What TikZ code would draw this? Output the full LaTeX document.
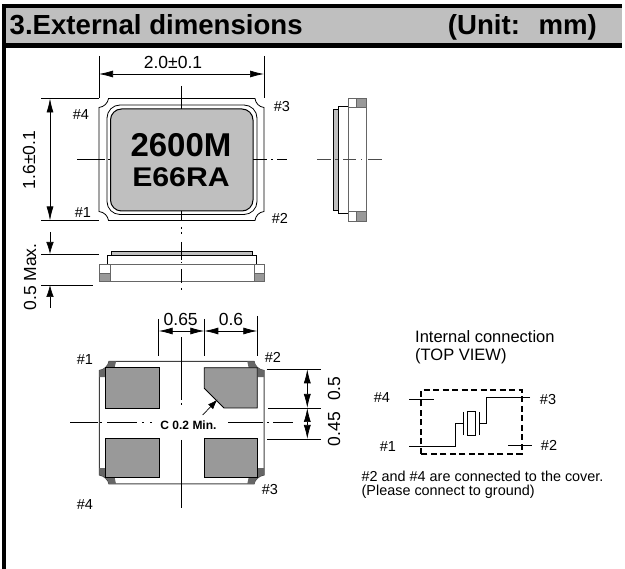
\documentclass[tikz,border=0pt]{standalone}
\usepackage{fontspec}
\setmainfont{Liberation Sans}
\usetikzlibrary{arrows.meta}
\definecolor{hdr}{HTML}{BFBFBF}
\definecolor{pad}{HTML}{999999}
\tikzset{
  txt/.style={inner sep=0pt,font=\fontsize{#1}{#1}\selectfont},
  txt/.default=17.5,
  dim/.style={line width=0.7pt,{Latex[length=14pt,width=7pt]}-{Latex[length=14pt,width=7pt]}},
  tip/.style={line width=0.7pt,-{Latex[length=12pt,width=7.5pt]}},
  ext/.style={line width=0.7pt},
  ctr/.style={line width=0.7pt},
  ol/.style={line width=0.8pt},
  olg/.style={line width=1pt,draw=black!60},
  wire/.style={line width=1pt},
  cover/.style={line width=1.7pt,dash pattern=on 6pt off 3.5pt},
}
\begin{document}
\begin{tikzpicture}[x=1pt,y=-1pt]
\useasboundingbox (0,0) rectangle (625,569);
% frame and header
\fill[hdr] (2,4) rectangle (622,48);
\fill[black] (2,4) rectangle (622,8.5);
\fill[black] (2,43) rectangle (622,48);
\fill[black] (2,4) rectangle (6,569);
\node[inner sep=0pt,font=\fontsize{27.6}{27.6}\selectfont\bfseries,anchor=base west] (title) at (9.5,35) {3.External dimensions};
\node[inner sep=0pt,font=\fontsize{27.6}{27.6}\selectfont\bfseries,anchor=base east] (unit) at (597,35) {(Unit:\hspace{0.3em} mm)};

% top view
\draw[ol] (108.5,98.5) -- (255,98.5) .. controls (255.5,103) and (259,107) .. (264,107.5)
  -- (264,211.5) .. controls (259,212) and (255.5,216) .. (255,220.5)
  -- (108.5,220.5) .. controls (108,216) and (104,212) .. (99,211.5)
  -- (99,107.5) .. controls (104,107) and (108,103) .. (108.5,98.5) -- cycle;
\draw[ol,rounded corners=13pt] (107,105) rectangle (257,214.5);
\draw[line width=1pt,fill=hdr,rounded corners=11pt] (110.5,109) rectangle (253,211);
\node[inner sep=0pt,font=\fontsize{33}{33}\selectfont\bfseries] (mark1) at (181,145.5) {2600M};
\node[inner sep=0pt,font=\fontsize{27}{27}\selectfont\bfseries,xscale=1.12] (mark2) at (181,177.5) {E66RA};
% top-view centre lines
\draw[ctr] (181,86) -- (181,109);
\draw[ctr] (181,211) -- (181,221);
\draw[ctr] (181,227) -- (181,229) (181,232) -- (181,234);
\draw[ctr] (77,159) -- (105,159) (108,159) -- (110,159);
\draw[ctr] (253,159) -- (267,159) (271,159) -- (273,159) (277,159) -- (287,159);
% dimensions top view
\coordinate (w1) at (99,74); \coordinate (w2) at (264,74);
\draw[ext] (99,56) -- (99,98.5);
\draw[ext] (264,56) -- (264,98);
\draw[dim] (w1) -- (w2);
\node[txt] (dimw) at (173,62) {2.0±0.1};
\coordinate (h1) at (50,98.5); \coordinate (h2) at (50,220.5);
\draw[ext] (41,98.5) -- (99,98.5);
\draw[ext] (41,220.5) -- (99,220.5);
\draw[dim] (h1) -- (h2);
\node[txt,rotate=90] (dimh) at (29,160) {1.6±0.1};
\node[txt=14.5] (a4) at (81,114.5) {\#4};
\node[txt=14.5] (a3) at (282,107) {\#3};
\node[txt=14.5] (a1) at (83,213) {\#1};
\node[txt=14.5] (a2) at (280,218) {\#2};

% front view
\draw[ol,fill=hdr] (111,255.7) -- (111,251.7) -- (252.7,251.7) -- (252.7,255.7);
\draw[ol] (107.7,265) -- (107.7,255.7) -- (256,255.7) -- (256,265);
\draw[olg] (99.3,265) rectangle (264,282);
\draw[olg,fill=pad] (99.3,273.5) rectangle (110,282);
\draw[olg,fill=pad] (254,273.5) rectangle (264,282);
\draw[olg] (99.3,265) rectangle (110,273.5);
\draw[olg] (254,265) rectangle (264,273.5);
\draw[ctr] (181,242) -- (181,260) (181,269) -- (181,283);
\draw[ctr] (181,262) -- (181,263.5) (181,288) -- (181,290);
\draw[ext] (41,254) -- (99,254);
\draw[ext] (41,285) -- (93,285);
\coordinate (m1) at (50,232); \coordinate (m2) at (50,254);
\coordinate (m3) at (50,308); \coordinate (m4) at (50,285);
\draw[tip] (m1) -- (m2);
\draw[tip] (m3) -- (m4);
\node[txt,rotate=90] (dimm) at (30,277) {0.5 Max.};

% side view
\draw[ol,fill=hdr] (338.3,109) rectangle (333.3,210.7);
\draw[ol] (348,106) -- (338.3,106) -- (338.3,213) -- (348,213);
\draw[olg] (348,98.3) rectangle (366,221.3);
\foreach \ya/\yb in {98.3/108,211.5/221.3}{
  \draw[olg] (348,\ya) rectangle (366,\yb);
  \draw[olg,fill=pad] (356.7,\ya) rectangle (366,\yb);
}
\draw[ctr,draw=black!70] (317,159.5) -- (331,159.5) (335,159.5) -- (338,159.5) (343,159.5) -- (356,159.5) (361,159.5) -- (362,159.5) (368,159.5) -- (382,159.5);

% bottom view
\draw[olg,draw=black!75] (109,361.3) -- (254,361.3) .. controls (254.5,366) and (259,370) .. (264,370.5)
  -- (264,475) .. controls (259,475.5) and (254.5,480) .. (254,484)
  -- (109,484) .. controls (108.5,480) and (104,475.5) .. (99.3,475)
  -- (99.3,370.5) .. controls (104,370) and (108.5,366) .. (109,361.3) -- cycle;
\foreach \sx/\sy in {1/1,-1/1,1/-1,-1/-1}{
  \begin{scope}[shift={(181.65,422.65)},xscale=\sx,yscale=\sy]
    \fill[black!60] (-72.6,-61.35) -- (-65.6,-61.35) -- (-67,-55) -- (-76,-55) -- (-76,-45.6) -- (-82.35,-45.6)
      -- (-82.35,-52.2) .. controls (-77.6,-52.7) and (-73.1,-56.7) .. (-72.6,-61.35) -- cycle;
  \end{scope}
}
\draw[ol,fill=pad] (105.7,367.7) rectangle (159,408);
\draw[ol,fill=pad] (105.7,438) rectangle (159,477.7);
\draw[ol,fill=pad] (204.3,438) rectangle (257.3,477.7);
\draw[ol,fill=pad] (204.3,367.7) -- (257.3,367.7) -- (257.3,408) -- (224,408) -- (204.3,388.3) -- cycle;
% bottom-view centre lines
\draw[ctr] (181.7,337) -- (181.7,400);
\draw[ctr] (181.7,403) -- (181.7,405);
\draw[ctr] (181.7,440) -- (181.7,508);
\draw[ctr] (70,422.7) -- (97.7,422.7) (100,422.7) -- (102,422.7) (107,422.7) -- (137,422.7) (142,422.7) -- (144,422.7) (150,422.7) -- (152,422.7);
\draw[ctr] (228,422.7) -- (263,422.7) (267,422.7) -- (269,422.7) (273,422.7) -- (293,422.7);
\node[inner sep=0pt,font=\fontsize{12}{12}\selectfont\bfseries] (cham) at (188.5,425) {C 0.2 Min.};
\coordinate (l1) at (202.7,415); \coordinate (l2) at (217.5,399.5);
\draw[line width=0.7pt,-{Latex[length=10pt,width=7pt]}] (l1) -- (l2);
% bottom-view dimensions
\draw[ext] (158.7,319) -- (158.7,355.7);
\draw[ext] (204.3,319) -- (204.3,355.7);
\draw[ext] (257.3,316) -- (257.3,356);
\coordinate (d1) at (158.7,331); \coordinate (d2) at (204.3,331); \coordinate (d3) at (257.3,331);
\draw[dim] (d1) -- (d2);
\draw[dim] (d2) -- (d3);
\node[txt] (d065) at (180.7,319) {0.65};
\node[txt] (d06) at (231,319) {0.6};
\draw[ext] (266.7,369.3) -- (320.7,369.3);
\draw[ext] (268,408) -- (320.7,408);
\draw[ext] (267,439) -- (320.7,439);
\coordinate (v1) at (307.3,369.3); \coordinate (v2) at (307.3,408); \coordinate (v3) at (307.3,439);
\draw[dim] (v1) -- (v2);
\draw[dim] (v2) -- (v3);
\node[txt,rotate=90] (d05) at (334,388.7) {0.5};
\node[txt,rotate=90] (d045) at (334,429) {0.45};
\node[txt=14.5] (b1) at (85,360) {\#1};
\node[txt=14.5] (b2) at (273,357) {\#2};
\node[txt=14.5] (b3) at (270,490) {\#3};
\node[txt=14.5] (b4) at (85,505) {\#4};

% internal connection
\node[txt=16.5,anchor=base west] (ic1) at (415,343) {Internal connection};
\node[txt=16.5,anchor=base west] (ic2) at (415,360.3) {(TOP VIEW)};
\draw[cover] (421,454) -- (421,390) -- (521.7,390) -- (521.7,454) -- cycle;
\draw[wire] (409,400) -- (434,400);
\draw[wire] (530,397.7) -- (486.7,397.7) -- (486.7,423.3) -- (479,423.3);
\draw[wire] (409,446.7) -- (455.7,446.7) -- (455.7,423.3) -- (463.3,423.3);
\draw[wire] (508,446) -- (532,446);
\draw[line width=0.9pt] (463.3,412) -- (463.3,435);
\draw[line width=0.9pt] (479,412) -- (479,435);
\draw[line width=0.9pt] (467.3,411.7) rectangle (475,435);
\node[txt=14.5] (c4) at (382,398) {\#4};
\node[txt=14.5] (c3) at (548,400) {\#3};
\node[txt=14.5] (c1) at (388,447) {\#1};
\node[txt=14.5] (c2) at (549,445) {\#2};
\node[txt=14.4,anchor=base west] (n1) at (361.5,481.5) {\#2 and \#4 are connected to the cover.};
\node[txt=14.4,anchor=base west] (n2) at (361.5,496) {(Please connect to ground)};
\end{tikzpicture}
\end{document}
